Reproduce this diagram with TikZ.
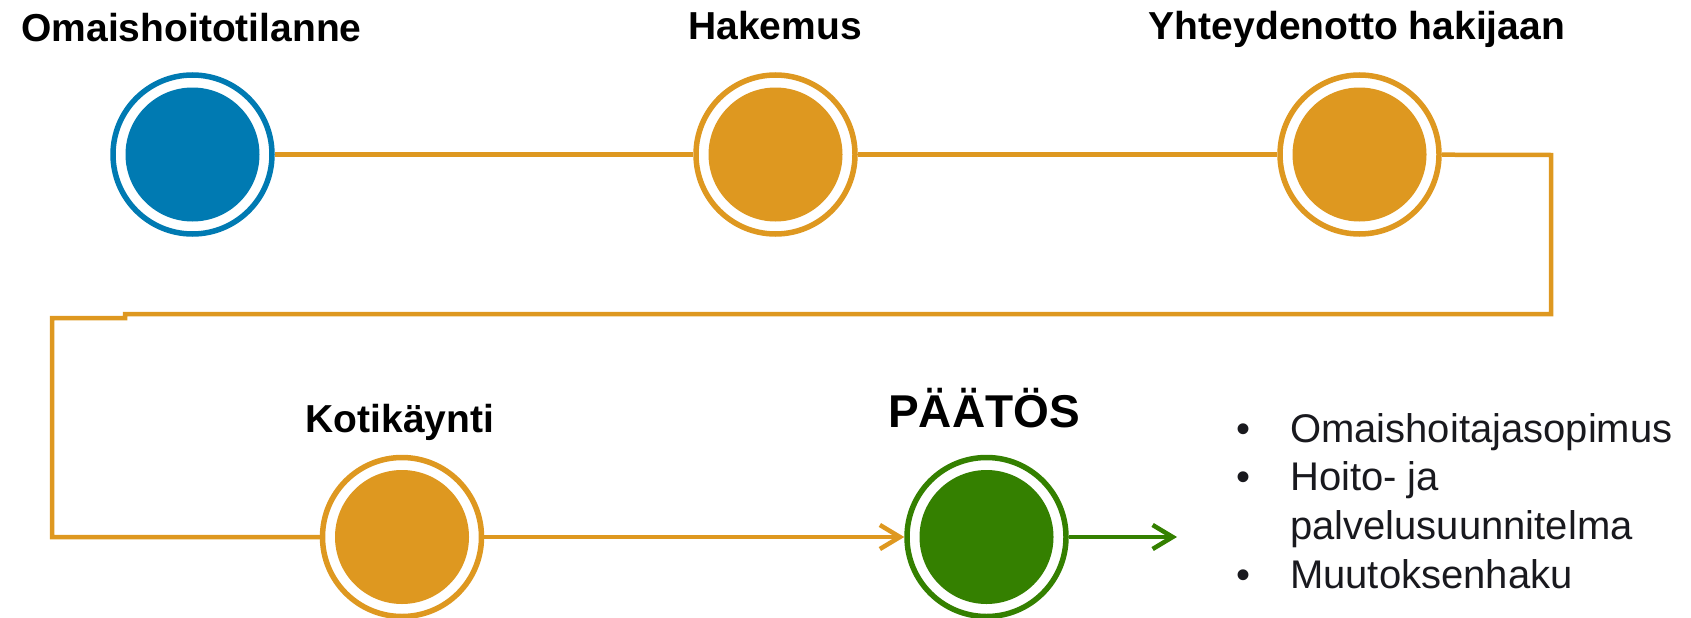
\documentclass[tikz,border=0pt]{standalone}
\usepackage{fontspec}
\setmainfont{Liberation Sans}
\usetikzlibrary{arrows.meta}
\definecolor{cblue}{RGB}{0,122,178}
\definecolor{corange}{RGB}{222,152,32}
\definecolor{cgreen}{RGB}{52,128,0}
\definecolor{ctext}{RGB}{25,25,30}
\begin{document}
\begin{tikzpicture}[x=1pt,y=-1pt,
  ring/.style={circle, draw=#1, line width=5.5pt, fill=white, minimum size=159pt, inner sep=0pt,
    path picture={\fill[#1] (path picture bounding box.center) circle[radius=67pt];}},
  conn/.style={draw=corange, line width=4.5pt, line join=miter},
  gconn/.style={draw=cgreen, line width=4.5pt},
  tip/.style={-{Straight Barb[length=20pt,width=24pt]}},
  title/.style={anchor=base, inner sep=0pt, font=\fontsize{39}{47}\selectfont\bfseries, text=black}]
\useasboundingbox (0,0) rectangle (1691,618);
% circles
\node[ring=cblue] (c1) at (192.5,154.5) {};
\node[ring=corange] (c2) at (775.5,154.5) {};
\node[ring=corange] (c3) at (1359.5,154.5) {};
\node[ring=corange] (c4) at (402,537) {};
\node[ring=cgreen] (c5) at (986.5,537) {};
% titles
\node[title] (t1) at (191.5,42) {Omaishoitotilanne};
\node[title] (t2) at (775,40) {Hakemus};
\node[title] (t3) at (1357,40) {Yhteydenotto hakijaan};
\node[title] (t4) at (400,432) {Kotikäynti};
\node[anchor=base, inner sep=0pt, font=\fontsize{46}{52}\selectfont\bfseries] (t5) at (984,427) {PÄÄTÖS};
% route coordinates
\coordinate (r1) at (1551,155);
\coordinate (r2) at (1551,314);
\coordinate (j1) at (125,314);
\coordinate (j2) at (125,318);
\coordinate (l1) at (52,318);
\coordinate (l2) at (52,537);
\coordinate (gend) at (1177,537);
% connectors
\draw[conn] (c1) -- (c2);
\draw[conn] (c2) -- (c3);
\draw[conn] (c3) -- (r1) -- (r2) -- (j1) -- (j2) -- (l1) -- (l2) -- (c4);
\draw[conn, tip] (c4) -- (c5);
\draw[gconn, tip] (c5) -- (gend);
% list
\node[anchor=base west, inner sep=0pt, text=ctext, font=\fontsize{40}{48.7}\selectfont] (list) at (1236,442)
  {\begin{tabular}[t]{@{}p{54pt}@{}l@{}}
   \textbullet & Omaishoitajasopimus\\
   \textbullet & Hoito- ja\\
               & palvelusuunnitelma\\
   \textbullet & Muutoksenhaku
   \end{tabular}};
\end{tikzpicture}
\end{document}
